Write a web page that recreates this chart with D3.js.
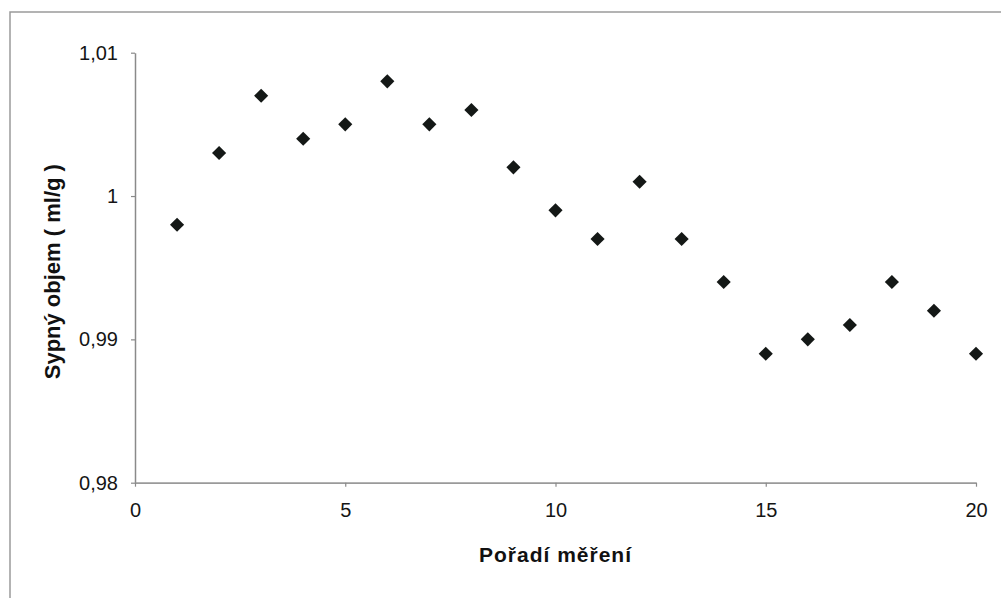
<!DOCTYPE html>
<html>
<head>
<meta charset="utf-8">
<script src="https://cdn.jsdelivr.net/npm/d3@7/dist/d3.min.js"></script>
<style>
  html, body { margin: 0; padding: 0; background: #fff; }
  svg { display: block; font-family: "Liberation Sans", Arial, sans-serif; }
</style>
</head>
<body>
<svg id="chart" width="1001" height="598"></svg>
<script>
// ---- data ----
const measurement = [1,2,3,4,5,6,7,8,9,10,11,12,13,14,15,16,17,18,19,20];
const bulkVolume = [0.998,1.003,1.007,1.004,1.005,1.008,1.005,1.006,1.002,0.999,
                    0.997,1.001,0.997,0.994,0.989,0.990,0.991,0.994,0.992,0.989];
const xTicks = [0,5,10,15,20];
const yTicks = [0.98,0.99,1.00,1.01];
const yTickLabels = ["0,98","0,99","1","1,01"];
const xTitle = "Pořadí měření";
const yTitle = "Sypný objem ( ml/g )";

const svg = d3.select("#chart");

// outer frame (left + top edges visible)
svg.append("path")
  .attr("d", "M10,598 L10,12 L1001,12")
  .attr("fill", "none").attr("stroke", "#9a9a9a").attr("stroke-width", 1.5);

const x = d3.scaleLinear().domain([0,20]).range([135,976]);
const y = d3.scaleLinear().domain([0.98,1.01]).range([482.7,52.7]);

// y axis
const gy = svg.append("g").attr("transform", "translate(135,0)")
  .call(d3.axisLeft(y).tickValues(yTicks).tickSize(4).tickSizeOuter(0).tickPadding(13)
    .tickFormat((d,i) => yTickLabels[i]));
gy.select(".domain").attr("stroke", "#8a8a8a").attr("stroke-width", 1.5);
gy.selectAll(".tick line").attr("stroke", "#8a8a8a").attr("stroke-width", 1.2);
gy.selectAll(".tick text").attr("fill", "#151515").style("font-size", "20px")
  .attr("font-family", "Liberation Sans, Arial, sans-serif");

// x axis
const gx = svg.append("g").attr("transform", "translate(0,482.7)")
  .call(d3.axisBottom(x).tickValues(xTicks).tickSize(4).tickSizeOuter(0).tickPadding(16)
    .tickFormat(d3.format("d")));
gx.select(".domain").attr("stroke", "#9a9a9a").attr("stroke-width", 1.8);
gx.selectAll(".tick line").attr("stroke", "#8a8a8a").attr("stroke-width", 1.2);
gx.selectAll(".tick text").attr("fill", "#151515").style("font-size", "20px")
  .attr("font-family", "Liberation Sans, Arial, sans-serif");

// points
const sq = d3.symbol().type(d3.symbolSquare).size(100);
svg.append("g").selectAll("path")
  .data(measurement.map((m,i) => ({m, v: bulkVolume[i]})))
  .join("path")
  .attr("d", sq)
  .attr("transform", d => `translate(${x(d.m)},${y(d.v)}) rotate(45)`)
  .attr("fill", "#141816");

// titles
svg.append("text")
  .attr("x", (x(0)+x(20))/2).attr("y", 562)
  .attr("text-anchor", "middle")
  .attr("font-weight", "bold").attr("font-size", 21).attr("fill", "#111")
  .attr("letter-spacing", 1)
  .text(xTitle);

svg.append("text")
  .attr("transform", `translate(60,${(y(0.98)+y(1.01))/2+4}) rotate(-90)`)
  .attr("text-anchor", "middle")
  .attr("font-weight", "bold").attr("font-size", 22).attr("fill", "#111")
  .text(yTitle);
</script>
</body>
</html>
